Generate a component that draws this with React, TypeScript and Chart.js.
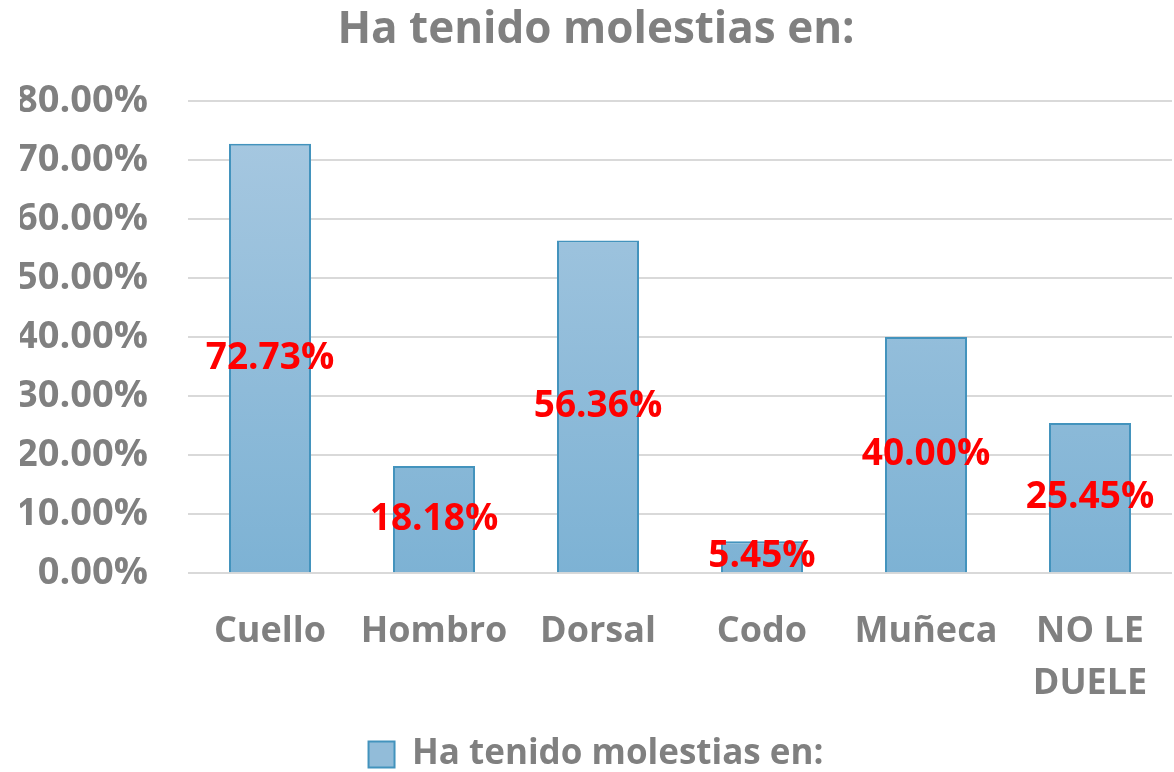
import React, { useEffect, useRef } from "react";
import { Chart, registerables } from "chart.js";

Chart.register(...registerables);

const categories: (string | string[])[] = ["Cuello", "Hombro", "Dorsal", "Codo", "Muñeca", ["NO LE", "DUELE"]];
const values: number[] = [72.73, 18.18, 56.36, 5.45, 40.0, 25.45];
const seriesName = "Ha tenido molestias en:";
const titleText = "Ha tenido molestias en:";

const FONT = "'Open Sans', sans-serif";
const GRAY = "#808080";

const labelPlugin = {
  id: "barLabels",
  afterDatasetsDraw(chart: any) {
    const ctx = chart.ctx;
    const meta = chart.getDatasetMeta(0);
    ctx.save();
    ctx.font = `bold 37px ${FONT}`;
    ctx.fillStyle = "#ff0000";
    ctx.textAlign = "center";
    ctx.textBaseline = "middle";
    meta.data.forEach((bar: any, i: number) => {
      const y = (bar.y + bar.base) / 2;
      ctx.fillText(values[i].toFixed(2) + "%", bar.x, y);
    });
    ctx.restore();
  },
};

export default function App() {
  const ref = useRef<HTMLCanvasElement>(null);
  useEffect(() => {
    document.body.style.margin = "0";
    const canvas = ref.current!;
    const chart = new Chart(canvas, {
      type: "bar",
      data: {
        labels: categories,
        datasets: [
          {
            label: seriesName,
            data: values,
            backgroundColor: (c: any) => {
              const area = c.chart.chartArea;
              if (!area) return "#92bcd9";
              const g = c.chart.ctx.createLinearGradient(0, area.top, 0, area.bottom);
              g.addColorStop(0, "#a9c9e1");
              g.addColorStop(1, "#7db2d4");
              return g;
            },
            borderColor: "#4393bd",
            borderWidth: 2,
            categoryPercentage: 1,
            barPercentage: 0.5,
          },
        ],
      },
      options: {
        responsive: false,
        animation: false,
        layout: { padding: { left: 20, right: 2, top: 0, bottom: -10 } },
        plugins: {
          title: {
            display: true,
            text: titleText,
            color: GRAY,
            font: { family: FONT, size: 44, weight: "bold" },
            padding: { top: 4, bottom: 44 },
          },
          legend: {
            position: "bottom",
            labels: {
              color: GRAY,
              font: { family: FONT, size: 35, weight: "bold" },
              boxWidth: 26,
              boxHeight: 26,
              padding: 2,
              generateLabels: (ch: any) => [
                {
                  text: seriesName,
                  fillStyle: "#92bcd9",
                  strokeStyle: "#4393bd",
                  lineWidth: 2,
                  fontColor: GRAY,
                  datasetIndex: 0,
                },
              ],
            },
          },
          tooltip: { enabled: false },
        },
        scales: {
          x: {
            grid: { display: false },
            border: { display: false },
            ticks: {
              color: GRAY,
              font: { family: FONT, size: 36, weight: "bold", lineHeight: 1.44 },
              padding: 25,
              maxRotation: 0,
              autoSkip: false,
            },
          },
          y: {
            min: 0,
            max: 80,
            border: { display: false },
            grid: { color: "#d9d9d9", lineWidth: 2, drawTicks: false },
            afterFit: (scale: any) => {
              scale.width = 168;
            },
            ticks: {
              stepSize: 10,
              color: GRAY,
              font: { family: FONT, size: 38, weight: "bold" },
              padding: 40,
              callback: (v: any) => Number(v).toFixed(2) + "%",
            },
          },
        },
      },
      plugins: [labelPlugin],
    } as any);
    return () => chart.destroy();
  }, []);
  return (
    <div style={{ width: 1174, height: 772 }}>
      <canvas ref={ref} width={1174} height={772} />
    </div>
  );
}
